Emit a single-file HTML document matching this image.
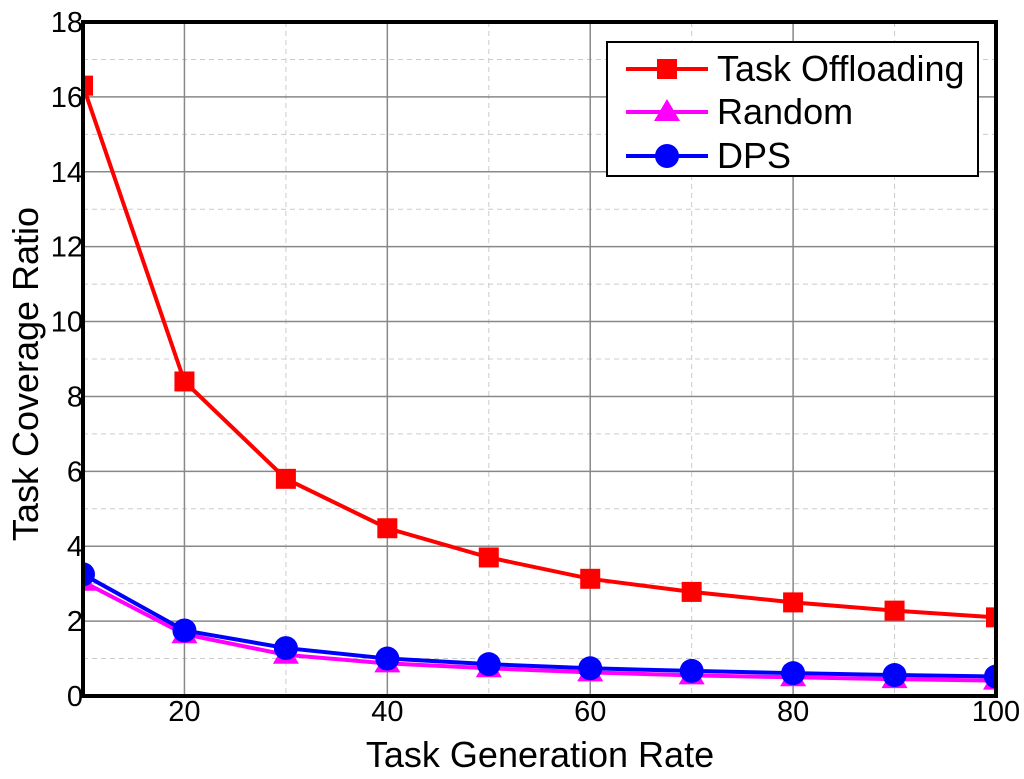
<!DOCTYPE html>
<html><head><meta charset="utf-8"><style>
html,body{margin:0;padding:0;background:#fff;}
svg{display:block;font-family:"Liberation Sans",Arial,sans-serif;}
</style></head><body>
<svg id="chart" width="1024" height="779"></svg>
<script>
const xValues=[10,20,30,40,50,60,70,80,90,100];
const offloading=[16.3,8.4,5.8,4.48,3.7,3.13,2.78,2.5,2.28,2.1];
const randomS=[3.05,1.65,1.1,0.87,0.74,0.63,0.55,0.5,0.45,0.41];
const dps=[3.25,1.75,1.28,1.0,0.85,0.74,0.67,0.61,0.56,0.52];
const xTicks=[20,40,60,80,100];
const yTicks=[0,2,4,6,8,10,12,14,16,18];
const L=83,R=996,T=22,B=696;
const xs=v=>L+(v-10)/90*(R-L);
const ys=v=>B-v/18*(B-T);
const NS='http://www.w3.org/2000/svg';
const svg=document.getElementById('chart');
function mk(tag,attrs,parent){const e=document.createElementNS(NS,tag);for(const k in attrs)e.setAttribute(k,attrs[k]);(parent||svg).appendChild(e);return e;}
const defs=mk('defs',{});const cp=mk('clipPath',{id:'clip'},defs);mk('rect',{x:L,y:T,width:R-L,height:B-T},cp);
const grid=mk('g',{});


for(let v=1;v<18;v+=2){mk('line',{x1:L,x2:R,y1:ys(v),y2:ys(v),stroke:'#ccc','stroke-width':1,'stroke-dasharray':'5,4'},grid);}
for(let v=30;v<100;v+=20){mk('line',{x1:xs(v),x2:xs(v),y1:T,y2:B,stroke:'#ccc','stroke-width':1,'stroke-dasharray':'5,4'},grid);}
for(const v of yTicks){if(v>0&&v<18)mk('line',{x1:L,x2:R,y1:ys(v),y2:ys(v),stroke:'#888','stroke-width':1.5},grid);}
for(const v of xTicks){if(v<100)mk('line',{x1:xs(v),x2:xs(v),y1:T,y2:B,stroke:'#888','stroke-width':1.5},grid);}
for(const v of yTicks){const t=mk('text',{x:L,y:ys(v)+10,'text-anchor':'end','font-size':29},svg);t.textContent=v;

}
for(const v of xTicks){const t=mk('text',{x:xs(v),y:B+25,'text-anchor':'middle','font-size':29},svg);t.textContent=v;

}
function marker(g,type,x,y,color){
 if(type==='sq')mk('rect',{x:x-10,y:y-10,width:20,height:20,fill:color},g);
 else if(type==='tri')mk('polygon',{points:`${x},${y-13} ${x-13},${y+9} ${x+13},${y+9}`,fill:color},g);
 else mk('circle',{cx:x,cy:y,r:12,fill:color},g);
}
function series(data,color,type,name){
 const g=mk('g',{'clip-path':'url(#clip)'});
 
 
 mk('polyline',{points:data.map((v,i)=>xs(xValues[i])+','+ys(v)).join(' '),fill:'none',stroke:color,'stroke-width':4},g);
 data.forEach((v,i)=>marker(g,type,xs(xValues[i]),ys(v),color));
}
series(offloading,'#ff0000','sq','series-task-offloading');
series(randomS,'#ff00ff','tri','series-random');
series(dps,'#0000ff','circ','series-dps');
const ax=mk('rect',{x:L,y:T,width:R-L,height:B-T,fill:'none',stroke:'#000','stroke-width':4});


const xt=mk('text',{x:540,y:767,'text-anchor':'middle','font-size':36});xt.textContent='Task Generation Rate';


const yt=mk('text',{x:0,y:0,'text-anchor':'middle','font-size':36,transform:'translate(38,374) rotate(-90)'});yt.textContent='Task Coverage Ratio';


const lg=mk('g',{});


mk('rect',{x:607,y:42,width:371,height:134,fill:'#fff',stroke:'#000','stroke-width':2},lg);
const items=[['Task Offloading','#ff0000','sq',69],['Random','#ff00ff','tri',112],['DPS','#0000ff','circ',156]];
for(const it of items){
 const e=mk('g',{},lg);
 
 
 mk('line',{x1:626,x2:708,y1:it[3],y2:it[3],stroke:it[1],'stroke-width':4},e);
 marker(e,it[2],667,it[3],it[1]);
 const t=mk('text',{x:717,y:it[3]+12,'font-size':36},e);t.textContent=it[0];
}
</script>
</body></html>
